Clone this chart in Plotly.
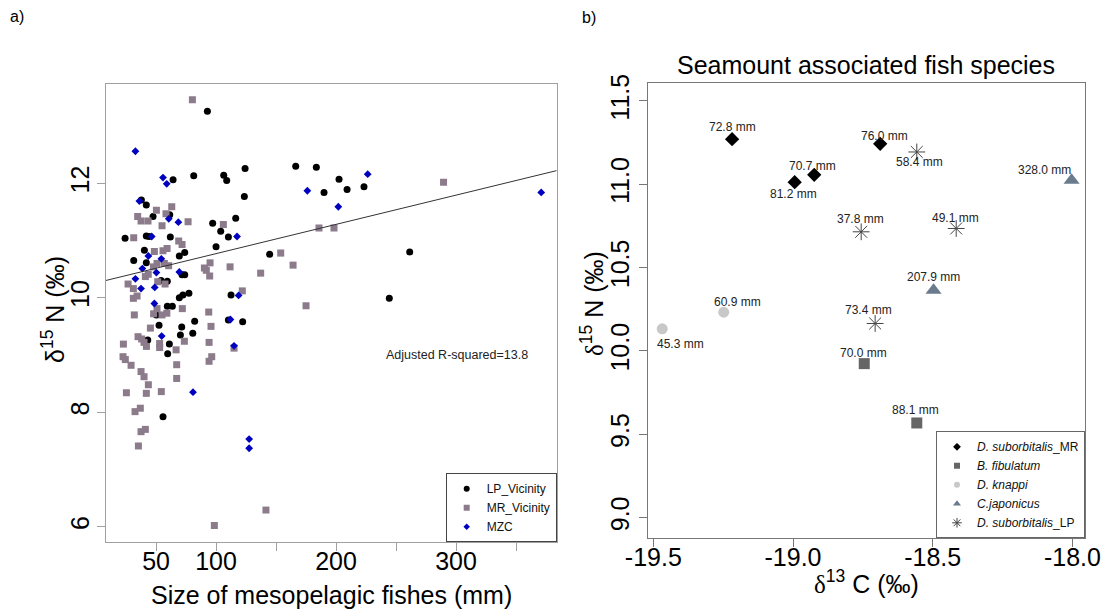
import plotly.graph_objects as go

# ---------------- Panel a data (size mm, d15N permil) ----------------
lp_size = [24.2, 31.4, 37.8, 41.9, 47.5, 41.9, 44.2, 40.3, 41.9, 61.4, 61.9, 64.2, 81.4, 92.8,
           97.2, 103.9, 100.0, 110.3, 116.4, 106.4, 108.9, 124.2, 123.6, 69.4, 73.9, 54.2, 59.4,
           71.7, 73.9, 69.4, 72.4, 77.4, 112.5, 59.4, 63.6, 50.3, 52.5, 71.4, 82.2, 110.3, 122.2,
           70.3, 80.6, 43.1, 61.1, 59.7, 55.8, 144.7, 166.4, 183.6, 190.0, 202.5, 209.2, 223.3,
           244.4, 261.4]
lp_d15n = [11.04, 10.65, 11.71, 11.62, 11.42, 11.08, 11.07, 10.83, 10.61, 11.45, 11.06, 12.06, 12.13, 13.26,
           11.30, 11.16, 10.89, 11.06, 11.39, 12.14, 12.05, 12.26, 11.77, 10.73, 10.79, 10.30, 10.29,
           10.40, 10.40, 10.00, 10.05, 10.08, 10.05, 9.85, 9.85, 9.70, 9.52, 9.49, 9.59, 9.61, 9.58,
           9.35, 9.38, 9.26, 9.19, 9.02, 7.92, 10.76, 12.30, 12.28, 11.84, 12.07, 11.89, 11.94,
           9.99, 10.80]

mr_size = [80.3, 63.1, 50.3, 58.3, 34.7, 37.5, 43.3, 76.7, 55.0, 106.1, 31.4, 68.9, 71.7, 48.6,
           55.8, 59.2, 50.8, 56.9, 95.0, 90.3, 91.9, 94.7, 111.7, 47.8, 41.1, 43.5, 26.7, 31.1,
           51.4, 57.5, 121.9, 31.1, 34.2, 50.8, 71.9, 31.9, 55.0, 59.0, 48.0, 93.9, 45.3, 95.8,
           35.0, 38.0, 40.0, 42.0, 53.0, 53.0, 73.6, 94.2, 115.0, 22.8, 22.5, 24.4, 29.2, 66.7,
           96.4, 94.2, 67.2, 37.5, 40.0, 43.6, 67.2, 25.3, 41.9, 54.4, 32.5, 36.9, 37.5, 41.1,
           35.3, 98.6, 141.6, 137.2, 153.9, 164.2, 175.0, 185.8, 198.3, 289.6, 60.5]
mr_d15n = [13.46, 11.59, 11.53, 11.47, 11.42, 11.34, 11.34, 11.33, 11.26, 11.28, 11.05, 10.99, 10.93, 10.81,
           10.82, 10.86, 10.60, 10.60, 10.61, 10.52, 10.48, 10.38, 10.54, 10.54, 10.37, 10.41, 10.24, 10.16,
           10.28, 10.24, 10.12, 9.99, 10.03, 9.81, 9.81, 9.70, 9.70, 9.73, 9.72, 9.75, 9.47, 9.50,
           9.32, 9.28, 9.22, 9.15, 9.20, 9.13, 9.24, 9.22, 9.12, 9.19, 8.97, 8.92, 8.82, 9.09,
           8.97, 8.89, 8.83, 8.71, 8.62, 8.48, 8.59, 8.34, 8.33, 8.36, 8.01, 8.07, 7.66, 7.70,
           7.41, 6.02, 6.29, 10.43, 10.78, 10.57, 9.86, 11.22, 11.22, 12.02, 10.56]

mzc_size = [32.8, 55.8, 58.9, 36.1, 60.6, 68.6, 46.4, 117.5, 43.6, 54.4, 38.6, 50.3, 69.4, 32.8,
            37.5, 48.9, 118.8, 48.6, 112.0, 54.7, 115.0, 80.8, 127.6, 127.6, 176.1, 201.9, 226.4, 371.0]
mzc_d15n = [12.56, 12.10, 11.99, 11.69, 11.38, 11.32, 11.07, 11.07, 10.73, 10.68, 10.51, 10.44, 10.45, 10.33,
            10.16, 10.18, 10.04, 9.90, 9.62, 9.33, 9.16, 8.35, 7.53, 7.37, 11.87, 11.59, 12.16, 11.84]

fit_intercept = 10.26
fit_slope = 0.00511
r2_text = "Adjusted R-squared=13.8"

xa_ticks = [50, 100, 150, 200, 250, 300, 350]
xa_ticktext = ["50", "100", "", "200", "", "300", ""]
ya_ticks = [6, 8, 10, 12]

# ---------------- Panel b data (d13C, d15N, length label) ----------------
dsmr_d13c = [-19.218, -18.688, -18.924, -18.994]
dsmr_d15n = [11.271, 11.243, 11.057, 11.013]
dsmr_len = ["72.8 mm", "76.0 mm", "70.7 mm", "81.2 mm"]

bfib_d13c = [-18.745, -18.557]
bfib_d15n = [9.924, 9.568]
bfib_len = ["70.0 mm", "88.1 mm"]

dkna_d13c = [-19.468, -19.248]
dkna_d15n = [10.133, 10.233]
dkna_len = ["45.3 mm", "60.9 mm"]

cjap_d13c = [-18.003, -18.497]
cjap_d15n = [11.025, 10.365]
cjap_len = ["328.0 mm", "207.9 mm"]

dslp_d13c = [-18.557, -18.756, -18.416, -18.706]
dslp_d15n = [11.194, 10.715, 10.735, 10.165]
dslp_len = ["58.4 mm", "37.8 mm", "49.1 mm", "73.4 mm"]

xb_ticks = [-19.5, -19.0, -18.5, -18.0]
xb_ticktext = ["-19.5", "-19.0", "-18.5", "-18.0"]
yb_ticks = [9.0, 9.5, 10.0, 10.5, 11.0, 11.5]
yb_ticktext = ["9.0", "9.5", "10.0", "10.5", "11.0", "11.5"]

# ---------------- styling ----------------
W, H = 1109, 613
FONT = "Liberation Sans, Arial, sans-serif"
SERIF_D = '<span style="font-family:Liberation Serif, serif">δ</span>'
XA_RANGE = [8.3, 383.9]
YA_RANGE = [5.727, 13.735]
XB_RANGE = [-19.52, -17.955]
YB_RANGE = [8.876, 11.606]

# label offsets (px) for panel-b size labels: (xshift, yshift)
label_shift = {
    "72.8 mm": (0, 12), "76.0 mm": (4, 8), "70.7 mm": (-2, 9), "81.2 mm": (-1, -12),
    "70.0 mm": (-1, 11), "88.1 mm": (-1, 13), "45.3 mm": (18, -15), "60.9 mm": (14, 10),
    "328.0 mm": (-27, 10), "207.9 mm": (0, 13), "58.4 mm": (3, -10), "37.8 mm": (-1, 13),
    "49.1 mm": (-1, 10), "73.4 mm": (-7, 13),
}

fig = go.Figure()

# ---- panel a traces ----
fig.add_trace(go.Scatter(x=lp_size, y=lp_d15n, mode="markers", name="LP_Vicinity",
                         marker=dict(symbol="circle", size=7, color="#000000"),
                         xaxis="x", yaxis="y", showlegend=False))
fig.add_trace(go.Scatter(x=mr_size, y=mr_d15n, mode="markers", name="MR_Vicinity",
                         marker=dict(symbol="square", size=7, color="#8B7B8B"),
                         xaxis="x", yaxis="y", showlegend=False))
fig.add_trace(go.Scatter(x=mzc_size, y=mzc_d15n, mode="markers", name="MZC",
                         marker=dict(symbol="diamond", size=6, color="#0000C0"),
                         xaxis="x", yaxis="y", showlegend=False))
fit_x = [XA_RANGE[0], XA_RANGE[1]]
fit_y = [fit_intercept + fit_slope * v for v in fit_x]
fig.add_trace(go.Scatter(x=fit_x, y=fit_y, mode="lines", line=dict(color="#333333", width=1),
                         xaxis="x", yaxis="y", showlegend=False, hoverinfo="skip"))

# legend entries panel a
for nm, sym, col, sz in [("LP_Vicinity", "circle", "#000000", 6),
                         ("MR_Vicinity", "square", "#8B7B8B", 6),
                         ("MZC", "diamond", "#0000C0", 5)]:
    fig.add_trace(go.Scatter(x=[None], y=[None], mode="markers", name=nm,
                             marker=dict(symbol=sym, size=sz, color=col),
                             xaxis="x", yaxis="y", legend="legend", showlegend=True))

# ---- panel b traces ----
species = [
    ("<i>D. suborbitalis</i>_MR", dsmr_d13c, dsmr_d15n, dsmr_len,
     dict(symbol="diamond", size=11, color="#000000"), dict(symbol="diamond", size=6, color="#000000")),
    ("<i>B. fibulatum</i>", bfib_d13c, bfib_d15n, bfib_len,
     dict(symbol="square", size=11, color="#666666"), dict(symbol="square", size=6, color="#666666")),
    ("<i>D. knappi</i>", dkna_d13c, dkna_d15n, dkna_len,
     dict(symbol="circle", size=11, color="#C8C8C8"), dict(symbol="circle", size=6, color="#C8C8C8")),
    ("<i>C.japonicus</i>", cjap_d13c, cjap_d15n, cjap_len,
     dict(symbol="triangle-up", size=14, color="#6B7B8E"), dict(symbol="triangle-up", size=7, color="#6B7B8E")),
    ("<i>D. suborbitalis</i>_LP", dslp_d13c, dslp_d15n, dslp_len,
     dict(symbol="asterisk-open", size=14, color="#444444", line=dict(color="#444444", width=1)),
     dict(symbol="asterisk-open", size=8, color="#444444", line=dict(color="#444444", width=1))),
]
annotations = []
for nm, xs, ys, labs, mk, lmk in species:
    fig.add_trace(go.Scatter(x=xs, y=ys, mode="markers", name=nm, marker=mk,
                             xaxis="x2", yaxis="y2", showlegend=False))
    fig.add_trace(go.Scatter(x=[None], y=[None], mode="markers", name=nm, marker=lmk,
                             xaxis="x2", yaxis="y2", legend="legend2", showlegend=True))
    for xv, yv, lab in zip(xs, ys, labs):
        dx, dy = label_shift[lab]
        annotations.append(dict(x=xv, y=yv, xref="x2", yref="y2", text=lab, showarrow=False,
                                xshift=dx, yshift=dy, font=dict(family=FONT, size=12, color="#222222")))

# ---- text annotations ----
def px(xp):
    return xp / W

def py(yp):
    return 1 - yp / H

annotations += [
    dict(x=px(17), y=py(16), xref="paper", yref="paper", text="a)", showarrow=False,
         font=dict(family=FONT, size=16, color="#000"), xanchor="center", yanchor="middle"),
    dict(x=px(589), y=py(18), xref="paper", yref="paper", text="b)", showarrow=False,
         font=dict(family=FONT, size=16, color="#000"), xanchor="center", yanchor="middle"),
    dict(x=px(331), y=py(595), xref="paper", yref="paper", text="Size of mesopelagic fishes (mm)",
         showarrow=False, font=dict(family=FONT, size=25, color="#000"), xanchor="center", yanchor="middle"),
    dict(x=px(53), y=py(310), xref="paper", yref="paper", text="δ<sup>15</sup> N (‰)", textangle=-90,
         showarrow=False, font=dict(family=FONT, size=25, color="#000"), xanchor="center", yanchor="middle"),
    dict(x=px(866), y=py(65), xref="paper", yref="paper", text="Seamount associated fish species",
         showarrow=False, font=dict(family=FONT, size=25, color="#000"), xanchor="center", yanchor="middle"),
    dict(x=px(866), y=py(582), xref="paper", yref="paper", text=SERIF_D + "<sup>13</sup> C (‰)",
         showarrow=False, font=dict(family=FONT, size=25, color="#000"), xanchor="center", yanchor="middle"),
    dict(x=px(592), y=py(304), xref="paper", yref="paper", text=SERIF_D + "<sup>15</sup> N (‰)", textangle=-90,
         showarrow=False, font=dict(family=FONT, size=25, color="#000"), xanchor="center", yanchor="middle"),
    dict(x=300.8, y=9.0, xref="x", yref="y", text=r2_text, showarrow=False,
         font=dict(family=FONT, size=12.5, color="#222222"), xanchor="center", yanchor="middle"),
]

axis_common = dict(showgrid=False, zeroline=False, showline=True, mirror=True, ticks="outside",
                   ticklen=8, automargin=False, tickfont=dict(family=FONT, size=25, color="#000"))

fig.update_layout(
    width=W, height=H, margin=dict(l=0, r=0, t=0, b=0, autoexpand=False),
    paper_bgcolor="white", plot_bgcolor="white",
    font=dict(family=FONT, color="#000"),
    xaxis=dict(domain=[px(106), px(556.7)], range=XA_RANGE, tickmode="array", tickvals=xa_ticks,
               ticktext=xa_ticktext, linecolor="#A0A0A0", tickcolor="#A0A0A0", anchor="y",
               ticklabelstandoff=-11, **axis_common),
    yaxis=dict(domain=[py(542.3), py(84)], range=YA_RANGE, tickmode="array", tickvals=ya_ticks,
               tickangle=-90, linecolor="#A0A0A0", tickcolor="#A0A0A0", anchor="x",
               ticklabelstandoff=-2, **axis_common),
    xaxis2=dict(domain=[px(647.7), px(1085)], range=XB_RANGE, tickmode="array", tickvals=xb_ticks,
                ticktext=xb_ticktext, linecolor="#777777", tickcolor="#777777", anchor="y2",
                ticklabelstandoff=-11, **axis_common),
    yaxis2=dict(domain=[py(538.3), py(83.3)], range=YB_RANGE, tickmode="array", tickvals=yb_ticks,
                ticktext=yb_ticktext, tickangle=-90, linecolor="#777777", tickcolor="#777777",
                anchor="x2", **axis_common),
    legend=dict(x=px(556.7), xanchor="right", y=py(542.3), yanchor="bottom", bgcolor="white",
                bordercolor="#444444", borderwidth=1, font=dict(family=FONT, size=12, color="#111"),
                itemwidth=30, tracegroupgap=0),
    legend2=dict(x=px(1085), xanchor="right", y=py(538.3), yanchor="bottom", bgcolor="white",
                 bordercolor="#666666", borderwidth=1, font=dict(family=FONT, size=12, color="#111"),
                 itemwidth=30, tracegroupgap=0),
    annotations=annotations,
    showlegend=True,
)

fig.write_html("out.html")
